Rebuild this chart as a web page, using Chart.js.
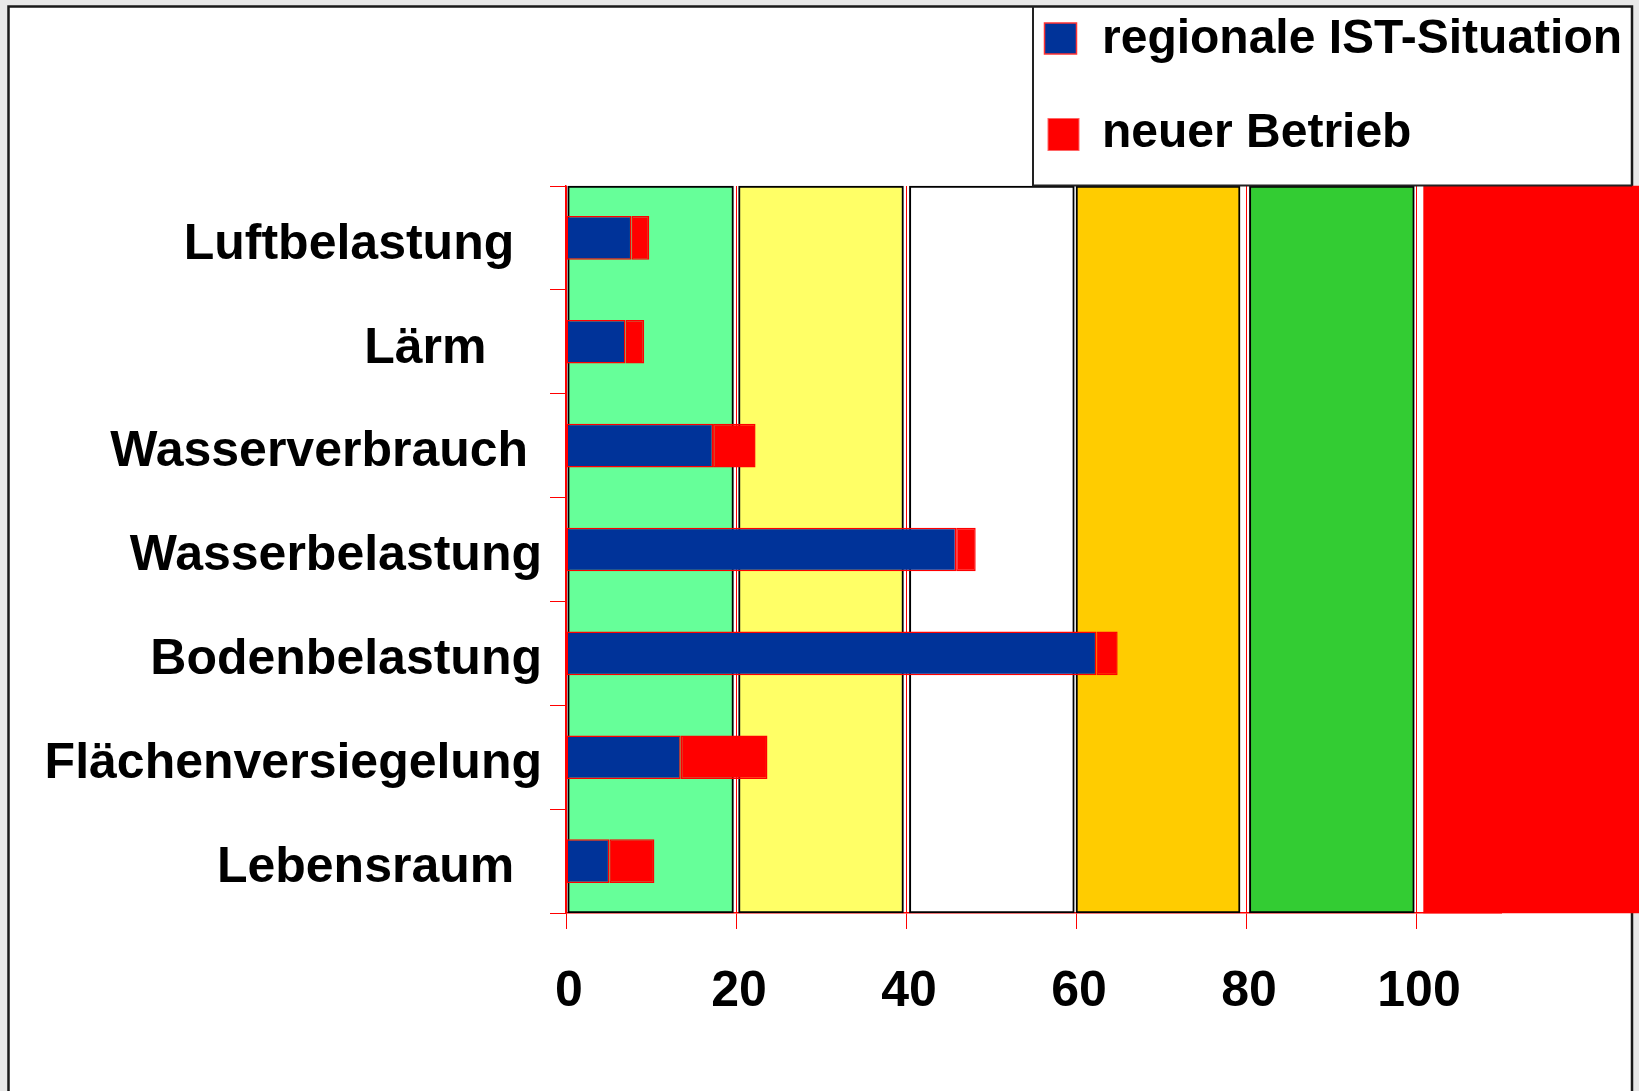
<!DOCTYPE html>
<html>
<head>
<meta charset="utf-8">
<script src="https://cdn.jsdelivr.net/npm/chart.js@4/dist/chart.umd.min.js"></script>
<style>
  html, body { margin: 0; padding: 0; background: #e8e8e8; }
  canvas { display: block; }
</style>
</head>
<body>
<canvas id="c" width="1639" height="1091"></canvas>
<script>
// ---- data ----
const categories = ['Luftbelastung', 'Lärm', 'Wasserverbrauch', 'Wasserbelastung', 'Bodenbelastung', 'Flächenversiegelung', 'Lebensraum'];
const seriesNames = ['regionale IST-Situation', 'neuer Betrieb'];
const istValues = [7.7, 7.0, 17.3, 45.9, 62.4, 13.5, 5.1];
const neuValues = [2.1, 2.2, 5.0, 2.3, 2.5, 10.2, 5.3];
const xTicks = [0, 20, 40, 60, 80, 100];
const bandStarts = [0.2, 20.3, 40.4, 60.0, 80.4, 100.9];
const bandEnds = [19.7, 39.7, 59.8, 79.3, 99.8, 130];

// ---- styles ----
const bandColors = ['#66ff99', '#ffff66', '#ffffff', '#ffcc00', '#33cc33', '#ff0000'];
const bandBorders = [2, 2, 2, 2, 2, 0];
const labelTrail = [2, 4, 1, 0, 0, 0, 2];
const FONT = '"Liberation Sans", Arial, Helvetica, sans-serif';
const PLOT_HEIGHT = 727;   // chart area height in px (bands span all categories)
const midCategory = categories[Math.floor(categories.length / 2)];

const bandDatasets = bandStarts.map((s, i) => ({
  label: 'band' + i,
  data: [{ x: [s, bandEnds[i]], y: midCategory }],
  xAxisID: 'x',
  yAxisID: 'y',
  stack: 'band' + i,
  grouped: false,
  backgroundColor: bandColors[i],
  borderColor: '#000000',
  borderWidth: bandBorders[i],
  borderSkipped: false,
  barThickness: PLOT_HEIGHT,
  order: 5,
  clip: false
}));

const frameAndLegend = {
  id: 'frameAndLegend',
  beforeDraw(chart) {
    const ctx = chart.ctx;
    ctx.save();
    ctx.fillStyle = '#e8e8e8';
    ctx.fillRect(0, 0, chart.width, chart.height);
    ctx.fillStyle = '#ffffff';
    ctx.fillRect(8, 6, 1624, 1100);
    ctx.strokeStyle = '#1a1a1a';
    ctx.lineWidth = 2.5;
    ctx.beginPath();
    ctx.moveTo(8.5, 1100); ctx.lineTo(8.5, 6.5); ctx.lineTo(1632, 6.5); ctx.lineTo(1632, 1100);
    ctx.stroke();
    ctx.restore();
  },
  afterDraw(chart) {
    const ctx = chart.ctx;
    const ds = chart.data.datasets;
    ctx.save();
    ctx.strokeStyle = '#222222';
    ctx.lineWidth = 2;
    ctx.beginPath();
    ctx.moveTo(1033, 6.5); ctx.lineTo(1033, 185.5); ctx.lineTo(1632, 185.5);
    ctx.stroke();
    ctx.fillStyle = ds[0].backgroundColor;
    ctx.fillRect(1044.5, 23, 32, 31);
    ctx.strokeStyle = '#ff3333';
    ctx.lineWidth = 1.5;
    ctx.strokeRect(1044.5, 23, 32, 31);
    ctx.fillStyle = ds[1].backgroundColor;
    ctx.fillRect(1048, 118.5, 31, 32);
    ctx.strokeStyle = '#ff6666';
    ctx.lineWidth = 1;
    ctx.strokeRect(1048, 118.5, 31, 32);
    ctx.fillStyle = '#000000';
    ctx.font = 'bold 48px ' + FONT;
    ctx.textAlign = 'left';
    ctx.textBaseline = 'alphabetic';
    ctx.fillText(ds[0].label, 1102, 53);
    ctx.fillText(ds[1].label, 1102, 147);
    ctx.restore();
  }
};

new Chart(document.getElementById('c'), {
  type: 'bar',
  data: {
    labels: categories,
    datasets: [
      {
        label: seriesNames[0],
        data: istValues,
        xAxisID: 'x',
        yAxisID: 'y',
        stack: 'main',
        backgroundColor: '#003399',
        borderColor: '#ff0000',
        borderWidth: 1.5,
        borderSkipped: false,
        barPercentage: 0.42,
        categoryPercentage: 1,
        order: 0
      },
      {
        label: seriesNames[1],
        data: neuValues,
        xAxisID: 'x',
        yAxisID: 'y',
        stack: 'main',
        backgroundColor: '#ff0000',
        borderColor: '#ff0000',
        borderWidth: 1.5,
        borderSkipped: false,
        barPercentage: 0.42,
        categoryPercentage: 1,
        order: 0
      },
      ...bandDatasets
    ]
  },
  options: {
    indexAxis: 'y',
    responsive: false,
    animation: false,
    devicePixelRatio: 1,
    layout: { padding: { top: 186, left: 0, right: 138, bottom: 0 } },
    plugins: {
      legend: { display: false },
      tooltip: { enabled: false }
    },
    scales: {
      x: {
        type: 'linear',
        position: 'bottom',
        min: 0,
        max: 110,
        stacked: true,
        afterBuildTicks(scale) {
          scale.ticks = xTicks.map(v => ({ value: v }));
        },
        afterFit(scale) { scale.height = 178; },
        ticks: {
          color: '#000000',
          font: { family: FONT, size: 50, weight: 'bold' },
          padding: 33,
          labelOffset: 3,
          maxRotation: 0
        },
        grid: {
          color: '#ff0000',
          lineWidth: 1,
          tickLength: 16,
          drawOnChartArea: true
        },
        border: { color: '#ff0000', width: 1.5 }
      },
      y: {
        type: 'category',
        position: 'left',
        stacked: true,
        afterFit(scale) { scale.width = 566; },
        ticks: {
          color: '#000000',
          font: { family: FONT, size: 50, weight: 'bold' },
          padding: 8,
          labelOffset: 7,
          callback(value, index) {
            return categories[index] + '\u00a0'.repeat(labelTrail[index]);
          }
        },
        grid: {
          color: '#ff0000',
          lineWidth: 1,
          tickLength: 16,
          offset: true,
          drawOnChartArea: false
        },
        border: { color: '#ff0000', width: 1.5 }
      }
    }
  },
  plugins: [frameAndLegend]
});
</script>
</body>
</html>
